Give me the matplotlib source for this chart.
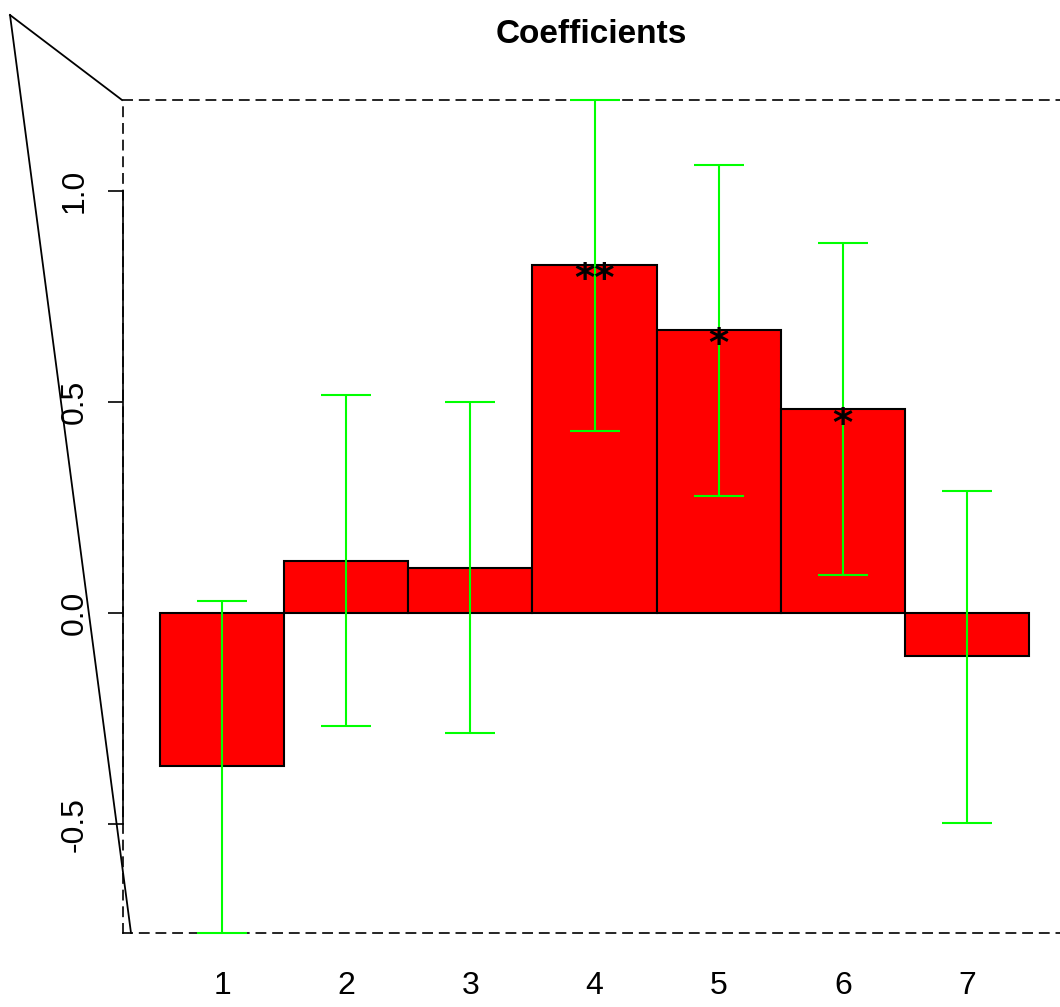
import numpy as np
import matplotlib.pyplot as plt
from matplotlib.lines import Line2D

plt.rcParams['font.family'] = ['Liberation Sans', 'DejaVu Sans']

# Datos
categorias = [1, 2, 3, 4, 5, 6, 7]
coef = [-0.363, 0.123, 0.107, 0.825, 0.671, 0.483, -0.102]
inferior = [-0.758, -0.268, -0.284, 0.431, 0.277, 0.090, -0.498]
superior = [0.028, 0.517, 0.500, 1.216, 1.062, 0.877, 0.289]
estrellas = ["", "", "", "**", "*", "*", ""]
yticks = [-0.5, 0.0, 0.5, 1.0]

W, H = 1060, 1007
fig = plt.figure(figsize=(W / 100, H / 100), dpi=100)

# Ejes en coordenadas de píxel
x0, x1, ytop, ybot = 123, 1060, 100, 933
ax = fig.add_axes([x0 / W, 1 - ybot / H, (x1 - x0) / W, (ybot - ytop) / H])

px_bar = 124.17
ax.set_xlim(1 - (222 - x0) / px_bar, 1 + (x1 - 222) / px_bar)
ax.set_ylim(min(inferior), max(superior))

ax.bar(categorias, coef, width=1.0, color="red", edgecolor="black",
       linewidth=1.5, zorder=2)

yerr = [np.array(coef) - np.array(inferior), np.array(superior) - np.array(coef)]
ax.errorbar(categorias, coef, yerr=yerr, fmt="none", ecolor="#00ff00",
            elinewidth=1.5, capsize=18, capthick=1.5, zorder=3, clip_on=False)

for x, y, s in zip(categorias, coef, estrellas):
    if s:
        ax.annotate(s, (x, y), xytext=(0, -19), textcoords="offset points",
                    ha="center", va="baseline", fontsize=28,
                    family="DejaVu Sans", fontweight="bold", zorder=4)

# Bordes discontinuos
for lado in ["top", "bottom", "left"]:
    ax.spines[lado].set_linestyle((0, (5.5, 4.5)))
    ax.spines[lado].set_linewidth(1.2)
ax.spines["right"].set_visible(False)

ax.set_xticks(categorias)
ax.set_xticklabels([str(c) for c in categorias], fontsize=23)
ax.tick_params(axis="x", length=0, pad=27)
ax.set_yticks(yticks)
ax.set_yticklabels(["%.1f" % t for t in yticks], fontsize=23, rotation=90,
                   va="center")
ax.tick_params(axis="y", length=11, width=1.2, pad=13)

# Eje y sólido entre las marcas
ax.plot([0, 0], [yticks[0], yticks[-1]], color="black", lw=1.2,
        transform=ax.get_yaxis_transform(), clip_on=False, zorder=5)

ax.set_title("Coefficients", fontsize=24, fontweight="bold", pad=41)

# Líneas inclinadas a la izquierda
fig.add_artist(Line2D([10 / W, 122 / W], [1 - 15 / H, 1 - 100 / H],
                      color="black", lw=1.3))
fig.add_artist(Line2D([10 / W, 131 / W], [1 - 15 / H, 1 - 933 / H],
                      color="black", lw=1.3))

plt.savefig("out.png", dpi=100)
